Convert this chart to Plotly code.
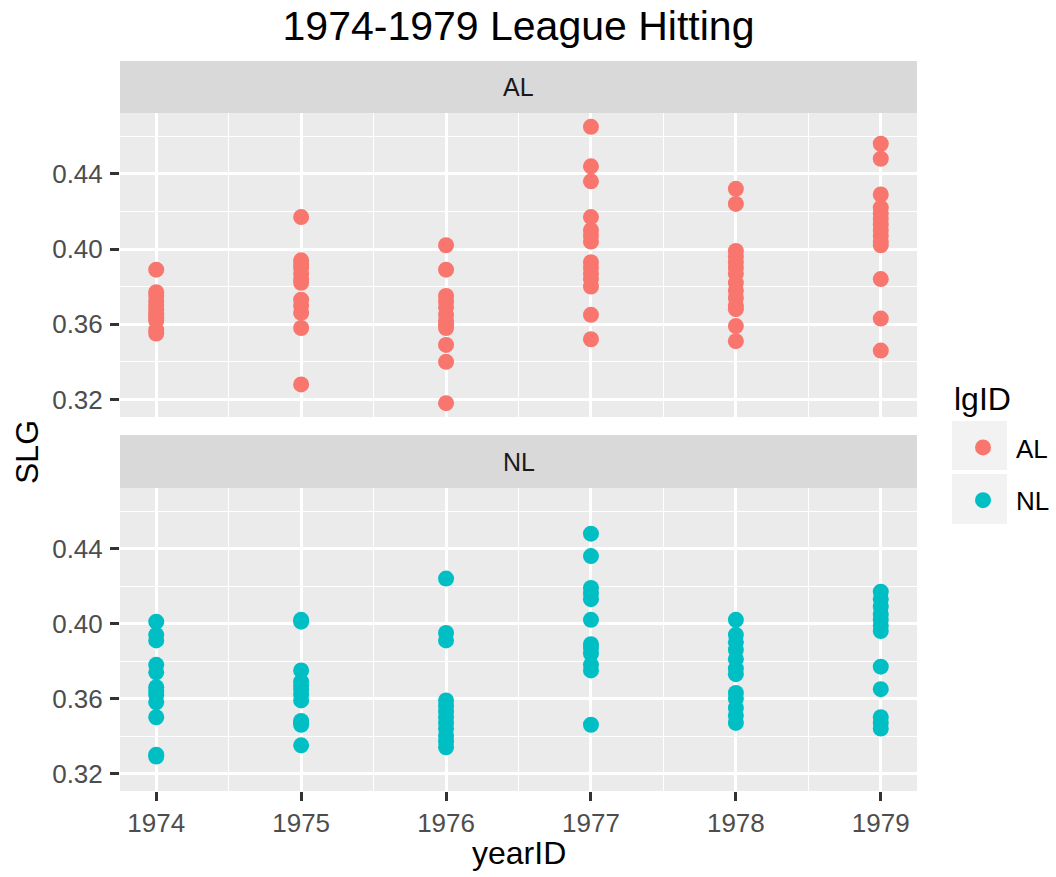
import plotly.graph_objects as go
from plotly.subplots import make_subplots

# ---------------- data ----------------
years = [1974, 1975, 1976, 1977, 1978, 1979]
leagues = ["AL", "NL"]

al_1974 = [0.389, 0.377, 0.375, 0.372, 0.370, 0.368, 0.366, 0.365, 0.363, 0.362, 0.357, 0.355]
al_1975 = [0.417, 0.394, 0.392, 0.390, 0.387, 0.384, 0.382, 0.373, 0.370, 0.366, 0.358, 0.328]
al_1976 = [0.402, 0.389, 0.375, 0.372, 0.369, 0.365, 0.362, 0.360, 0.358, 0.349, 0.340, 0.318]
al_1977 = [0.465, 0.444, 0.436, 0.417, 0.410, 0.407, 0.404, 0.393, 0.390, 0.387, 0.384, 0.380, 0.365, 0.352]
al_1978 = [0.432, 0.424, 0.399, 0.396, 0.393, 0.390, 0.387, 0.382, 0.378, 0.374, 0.370, 0.368, 0.359, 0.351]
al_1979 = [0.456, 0.448, 0.429, 0.422, 0.419, 0.416, 0.413, 0.410, 0.407, 0.404, 0.402, 0.384, 0.363, 0.346]

nl_1974 = [0.401, 0.394, 0.391, 0.378, 0.374, 0.366, 0.364, 0.362, 0.358, 0.350, 0.330, 0.329]
nl_1975 = [0.402, 0.401, 0.375, 0.369, 0.367, 0.365, 0.362, 0.359, 0.348, 0.347, 0.346, 0.335]
nl_1976 = [0.424, 0.395, 0.391, 0.359, 0.356, 0.353, 0.350, 0.347, 0.344, 0.340, 0.337, 0.334]
nl_1977 = [0.448, 0.436, 0.419, 0.416, 0.413, 0.402, 0.389, 0.387, 0.384, 0.378, 0.375, 0.346]
nl_1978 = [0.402, 0.394, 0.390, 0.386, 0.381, 0.376, 0.373, 0.363, 0.360, 0.355, 0.351, 0.347]
nl_1979 = [0.417, 0.413, 0.409, 0.405, 0.402, 0.399, 0.396, 0.377, 0.365, 0.350, 0.347, 0.344]

al_values = [al_1974, al_1975, al_1976, al_1977, al_1978, al_1979]
nl_values = [nl_1974, nl_1975, nl_1976, nl_1977, nl_1978, nl_1979]

y_tick_vals = [0.32, 0.36, 0.40, 0.44]
y_tick_text = ["0.32", "0.36", "0.40", "0.44"]
x_tick_text = [str(y) for y in years]

colors = {"AL": "#F8766D", "NL": "#00BFC4"}
FONT = "Liberation Sans, Arial, Helvetica, sans-serif"


def flatten(values):
    xs, ys = [], []
    for yr, vals in zip(years, values):
        xs += [yr] * len(vals)
        ys += vals
    return xs, ys


# ---------------- figure geometry ----------------
W, H = 1056, 877
ML, MT = 120, 61
MR = W - 917
MB = H - 791
PW, PH = W - ML - MR, H - MT - MB


def py(p):  # screen pixel y -> paper y
    return (H - MB - p) / PH


def px(p):  # screen pixel x -> paper x
    return (p - ML) / PW


fig = make_subplots(rows=2, cols=1)

for i, (lg, vals) in enumerate(zip(leagues, [al_values, nl_values])):
    xs, ys = flatten(vals)
    fig.add_trace(
        go.Scatter(
            x=xs, y=ys, mode="markers", name=lg, legendgroup=lg,
            marker=dict(color=colors[lg], size=16, line=dict(width=0)),
        ),
        row=i + 1, col=1,
    )

all_vals = [v for vs in al_values + nl_values for v in vs]
ymin, ymax = min(all_vals), max(all_vals)
pad = (ymax - ymin) * 0.05
yrange = [ymin - pad, ymax + pad]
xrange = [years[0] - 0.25, years[-1] + 0.25]

panel_bg = "#EBEBEB"
strip_bg = "#D9D9D9"

y_domains = [[py(417), py(113)], [0.0, py(488)]]
strip_px = [(61, 113), (435, 488)]

common_x = dict(
    range=xrange, tickvals=years, ticktext=x_tick_text,
    showgrid=True, gridcolor="white", gridwidth=2.6, zeroline=False,
    minor=dict(dtick=0.5, tick0=1973.5, showgrid=True, gridcolor="white", gridwidth=1.3, ticklen=0),
    showline=False, domain=[0, 1],
)
common_y = dict(
    range=yrange, tickvals=y_tick_vals, ticktext=y_tick_text,
    showgrid=True, gridcolor="white", gridwidth=2.6, zeroline=False,
    minor=dict(dtick=0.02, tick0=0.30, showgrid=True, gridcolor="white", gridwidth=1.3, ticklen=0),
    ticks="outside", ticklen=9, tickwidth=2.5, tickcolor="#333333",
    tickfont=dict(family=FONT, size=26, color="#4D4D4D"),
    ticklabelstandoff=2,
    showline=False,
)

fig.update_layout(
    xaxis=dict(common_x, ticks="", showticklabels=False, anchor="y"),
    xaxis2=dict(common_x, ticks="outside", ticklen=9, tickwidth=2.5, tickcolor="#333333",
                tickfont=dict(family=FONT, size=26, color="#4D4D4D"), anchor="y2"),
    yaxis=dict(common_y, domain=y_domains[0], anchor="x"),
    yaxis2=dict(common_y, domain=y_domains[1], anchor="x2"),
)

shapes = []
annotations = []
for lg, (s0, s1), dom in zip(leagues, strip_px, y_domains):
    shapes.append(dict(type="rect", xref="paper", yref="paper", x0=0, x1=1,
                       y0=dom[0], y1=dom[1], fillcolor=panel_bg, line=dict(width=0), layer="below"))
    shapes.append(dict(type="rect", xref="paper", yref="paper", x0=0, x1=1,
                       y0=py(s1), y1=py(s0), fillcolor=strip_bg, line=dict(width=0), layer="below"))
    annotations.append(dict(text=lg, xref="paper", yref="paper", x=0.5, y=(py(s0) + py(s1)) / 2,
                            xanchor="center", yanchor="middle", showarrow=False,
                            font=dict(family=FONT, size=25, color="#1A1A1A")))

# legend key backgrounds
for (k0, k1) in [(421, 470), (474, 524)]:
    shapes.append(dict(type="rect", xref="paper", yref="paper", x0=px(952), x1=px(1007),
                       y0=py(k1), y1=py(k0), fillcolor="#F2F2F2", line=dict(width=0), layer="below"))

# legend title
annotations.append(dict(text="lgID", xref="paper", yref="paper", x=px(952), y=py(399),
                        xanchor="left", yanchor="middle", showarrow=False,
                        font=dict(family=FONT, size=32, color="black")))

# axis titles
annotations.append(dict(text="SLG", xref="paper", yref="paper", x=px(27), y=py(452),
                        xanchor="center", yanchor="middle", textangle=-90, showarrow=False,
                        font=dict(family=FONT, size=32, color="black")))
annotations.append(dict(text="yearID", xref="paper", yref="paper", x=0.5, y=py(853),
                        xanchor="center", yanchor="middle", showarrow=False,
                        font=dict(family=FONT, size=32, color="black")))

fig.update_layout(
    width=W, height=H,
    margin=dict(l=ML, r=MR, t=MT, b=MB, autoexpand=False),
    paper_bgcolor="white", plot_bgcolor=panel_bg,
    title=dict(text="1974-1979 League Hitting", x=0.5, xref="paper", xanchor="center",
               y=1 - 26 / H, yref="container", yanchor="middle",
               font=dict(family=FONT, size=41, color="black")),
    shapes=shapes, annotations=annotations,
    showlegend=True,
    legend=dict(
        font=dict(family=FONT, size=26, color="black"),
        x=px(950), xanchor="left", y=py(424), yanchor="top",
        bgcolor="rgba(0,0,0,0)", traceorder="grouped", tracegroupgap=16,
        itemsizing="trace", itemwidth=56,
    ),
)

fig.write_html(
    "out.html",
    config={"displayModeBar": False},
    post_script="document.body.style.margin='0';document.body.style.overflow='hidden';",
)
